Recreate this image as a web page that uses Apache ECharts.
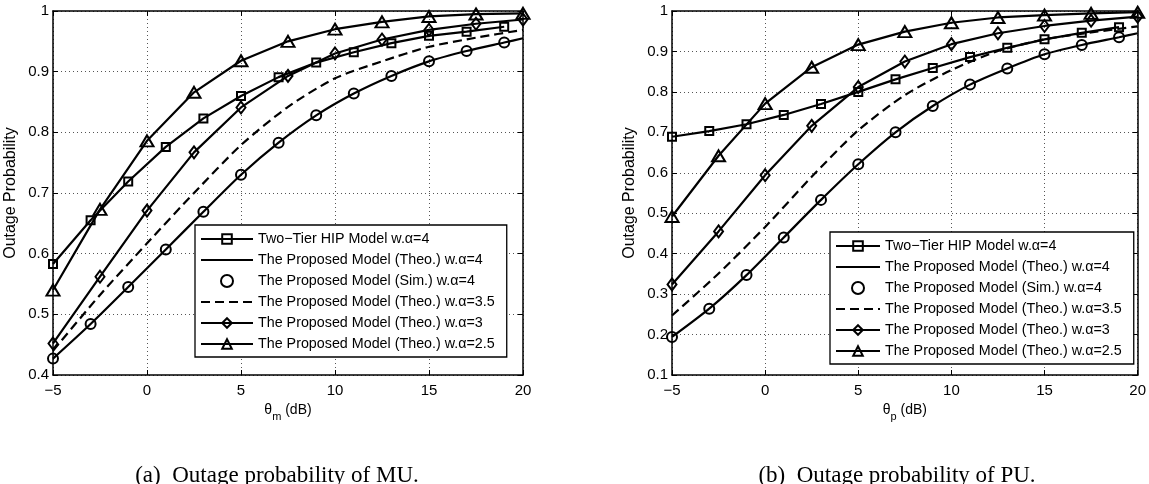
<!DOCTYPE html>
<html>
<head>
<meta charset="utf-8">
<script src="https://cdn.jsdelivr.net/npm/echarts@6/dist/echarts.min.js"></script>
<style>
  html, body { margin: 0; padding: 0; background: #fff; }
  #chart { width: 1149px; height: 484px; }
</style>
</head>
<body>
<div id="chart"></div>
<script>
// SINR thresholds (dB) at which each curve is sampled
const xOdd  = [-5, -3, -1, 1, 3, 5, 7, 9, 11, 13, 15, 17, 19];
const xHalf = [-5, -2.5, 0, 2.5, 5, 7.5, 10, 12.5, 15, 17.5, 20];
const xTheo = [-5, -3, -1, 1, 3, 5, 7, 9, 11, 13, 15, 17, 19, 20];

const seriesNames = [
  'Two\u2212Tier HIP Model w.\u03b1=4',
  'The Proposed Model (Theo.) w.\u03b1=4',
  'The Proposed Model (Sim.) w.\u03b1=4',
  'The Proposed Model (Theo.) w.\u03b1=3.5',
  'The Proposed Model (Theo.) w.\u03b1=3',
  'The Proposed Model (Theo.) w.\u03b1=2.5'
];

// (a) macro users
const muTwoTier = [0.583, 0.655, 0.719, 0.776, 0.823, 0.860, 0.891, 0.915, 0.932, 0.947, 0.959, 0.966, 0.974];
const muTheo4   = [0.427, 0.484, 0.545, 0.607, 0.669, 0.730, 0.783, 0.828, 0.864, 0.893, 0.917, 0.934, 0.948, 0.955];
const muSim4    = [0.427, 0.484, 0.545, 0.607, 0.669, 0.730, 0.783, 0.828, 0.864, 0.893, 0.917, 0.934, 0.948];
const muTheo35  = [0.440, 0.532, 0.617, 0.700, 0.779, 0.842, 0.889, 0.917, 0.941, 0.956, 0.969];
const muTheo3   = [0.452, 0.562, 0.671, 0.767, 0.841, 0.893, 0.930, 0.953, 0.969, 0.979, 0.986];
const muTheo25  = [0.540, 0.673, 0.786, 0.866, 0.918, 0.950, 0.970, 0.982, 0.991, 0.995, 0.996];

// (b) pico users
const puTwoTier = [0.689, 0.703, 0.720, 0.743, 0.770, 0.800, 0.831, 0.859, 0.886, 0.909, 0.930, 0.946, 0.960];
const puTheo4   = [0.194, 0.264, 0.347, 0.440, 0.533, 0.621, 0.700, 0.765, 0.818, 0.858, 0.893, 0.916, 0.935, 0.945];
const puSim4    = [0.194, 0.264, 0.347, 0.440, 0.533, 0.621, 0.700, 0.765, 0.818, 0.858, 0.893, 0.916, 0.935];
const puTheo35  = [0.247, 0.351, 0.466, 0.590, 0.705, 0.792, 0.854, 0.901, 0.930, 0.947, 0.962];
const puTheo3   = [0.324, 0.455, 0.594, 0.716, 0.812, 0.875, 0.918, 0.945, 0.963, 0.976, 0.986];
const puTheo25  = [0.492, 0.642, 0.771, 0.861, 0.917, 0.949, 0.971, 0.984, 0.990, 0.994, 0.997];

const pairs = (xs, ys) => xs.map((x, i) => [x, ys[i]]);
const FONT = 'Liberation Sans';
const INK = '#000';
const LW = 2.2;
const hollow = { color: 'rgba(255,255,255,0)', borderColor: INK, borderWidth: 2, opacity: 1 };
// plain curves: no marker, and no dot in the legend sample either
const noMark = { color: 'rgba(0,0,0,0)', borderColor: 'rgba(0,0,0,0)', borderWidth: 0 };

function buildSeries(g, d) {
  const base = { xAxisIndex: g * 2, yAxisIndex: g * 2, animation: false, z: 3 };
  return [
    Object.assign({}, base, {
      name: seriesNames[0], type: 'line', data: pairs(xOdd, d[0]),
      symbol: 'rect', symbolSize: 8, showAllSymbol: true,
      lineStyle: { color: INK, width: LW }, itemStyle: hollow
    }),
    Object.assign({}, base, {
      name: seriesNames[1], type: 'line', data: pairs(xTheo, d[1]),
      symbol: 'none', smooth: 0.25,
      lineStyle: { color: INK, width: LW }, itemStyle: noMark
    }),
    Object.assign({}, base, {
      name: seriesNames[2], type: 'scatter', data: pairs(xOdd, d[2]),
      symbol: 'circle', symbolSize: 10, itemStyle: hollow
    }),
    Object.assign({}, base, {
      name: seriesNames[3], type: 'line', data: pairs(xHalf, d[3]),
      symbol: 'none', smooth: 0.25,
      lineStyle: { color: INK, width: LW, type: [9, 5] }, itemStyle: noMark
    }),
    Object.assign({}, base, {
      name: seriesNames[4], type: 'line', data: pairs(xHalf, d[4]),
      symbol: 'diamond', symbolSize: [9, 12], showAllSymbol: true,
      lineStyle: { color: INK, width: LW }, itemStyle: hollow
    }),
    Object.assign({}, base, {
      name: seriesNames[5], type: 'line', data: pairs(xHalf, d[5]),
      symbol: 'triangle', symbolSize: [13, 11], showAllSymbol: true,
      lineStyle: { color: INK, width: LW }, itemStyle: hollow
    })
  ];
}

function tickLabel(v) {
  const r = Math.round(v * 10) / 10;
  return r === 1 ? '1' : r.toFixed(1);
}
function xLabel(v) {
  return v < 0 ? '\u2212' + Math.abs(v) : String(v);
}

function axesFor(g, yMin, sub) {
  const xMain = {
    type: 'value', gridIndex: g, min: -5, max: 20, interval: 5, position: 'bottom',
    name: '{t|\u03b8}{s|' + sub + '}{t| (dB)}', nameLocation: 'middle', nameGap: 18,
    nameTextStyle: {
      rich: {
        t: { fontFamily: FONT, fontSize: 14, color: INK, verticalAlign: 'top', lineHeight: 20 },
        s: { fontFamily: FONT, fontSize: 11, color: INK, verticalAlign: 'bottom', lineHeight: 20 }
      }
    },
    axisLine: { show: true, onZero: false, lineStyle: { color: INK, width: 1.5 } },
    axisTick: { show: true, inside: true, length: 5, lineStyle: { color: INK } },
    axisLabel: { fontFamily: FONT, fontSize: 15, color: INK, margin: 8, formatter: xLabel },
    splitLine: { show: true, lineStyle: { color: '#555', width: 1, type: [1, 3] } }
  };
  const xTop = {
    type: 'value', gridIndex: g, min: -5, max: 20, interval: 5, position: 'top',
    axisLine: { show: true, onZero: false, lineStyle: { color: INK, width: 1.5 } },
    axisTick: { show: true, inside: true, length: 5, lineStyle: { color: INK } },
    axisLabel: { show: false }, splitLine: { show: false }
  };
  const yMain = {
    type: 'value', gridIndex: g, min: yMin, max: 1, interval: 0.1, position: 'left',
    name: 'Outage Probability', nameLocation: 'middle', nameGap: 34,
    nameTextStyle: { fontFamily: FONT, fontSize: 16, color: INK },
    axisLine: { show: true, onZero: false, lineStyle: { color: INK, width: 1.5 } },
    axisTick: { show: true, inside: true, length: 5, lineStyle: { color: INK } },
    axisLabel: { fontFamily: FONT, fontSize: 15, color: INK, margin: 4, formatter: tickLabel },
    splitLine: { show: true, lineStyle: { color: '#555', width: 1, type: [1, 3] } }
  };
  const yRight = {
    type: 'value', gridIndex: g, min: yMin, max: 1, interval: 0.1, position: 'right',
    axisLine: { show: true, onZero: false, lineStyle: { color: INK, width: 1.5 } },
    axisTick: { show: true, inside: true, length: 5, lineStyle: { color: INK } },
    axisLabel: { show: false }, splitLine: { show: false }
  };
  return { x: [xMain, xTop], y: [yMain, yRight] };
}

const axA = axesFor(0, 0.4, 'm');
const axB = axesFor(1, 0.1, 'p');

function legendAt(left, top, itemWidth) {
  return {
    data: seriesNames, orient: 'vertical', left: left, top: top,
    backgroundColor: '#fff', borderColor: INK, borderWidth: 1.3,
    padding: [7, 12, 6, 5], itemWidth: itemWidth, itemHeight: 12, itemGap: 7,
    itemTextGap: 6, selectedMode: false, z: 10,
    textStyle: { fontFamily: FONT, fontSize: 14.3, color: INK, lineHeight: 12 }
  };
}

const captionStyle = { fontFamily: 'Liberation Serif', fontSize: 23, fontWeight: 'normal', color: INK };

const option = {
  backgroundColor: '#fff',
  animation: false,
  grid: [
    { left: 53, top: 11, width: 470, height: 364 },
    { left: 672, top: 11, width: 468, height: 364 }
  ],
  xAxis: axA.x.concat(axB.x),
  yAxis: axA.y.concat(axB.y),
  legend: [legendAt(195, 225, 52), legendAt(830, 232, 44)],
  title: [
    { text: '(a)  Outage probability of MU.', left: 272, top: 459, textAlign: 'center', textStyle: captionStyle },
    { text: '(b)  Outage probability of PU.', left: 892, top: 459, textAlign: 'center', textStyle: captionStyle }
  ],
  series: buildSeries(0, [muTwoTier, muTheo4, muSim4, muTheo35, muTheo3, muTheo25])
    .concat(buildSeries(1, [puTwoTier, puTheo4, puSim4, puTheo35, puTheo3, puTheo25]))
};

const chart = echarts.init(document.getElementById('chart'), null, { renderer: 'canvas' });
chart.setOption(option);
</script>
</body>
</html>
